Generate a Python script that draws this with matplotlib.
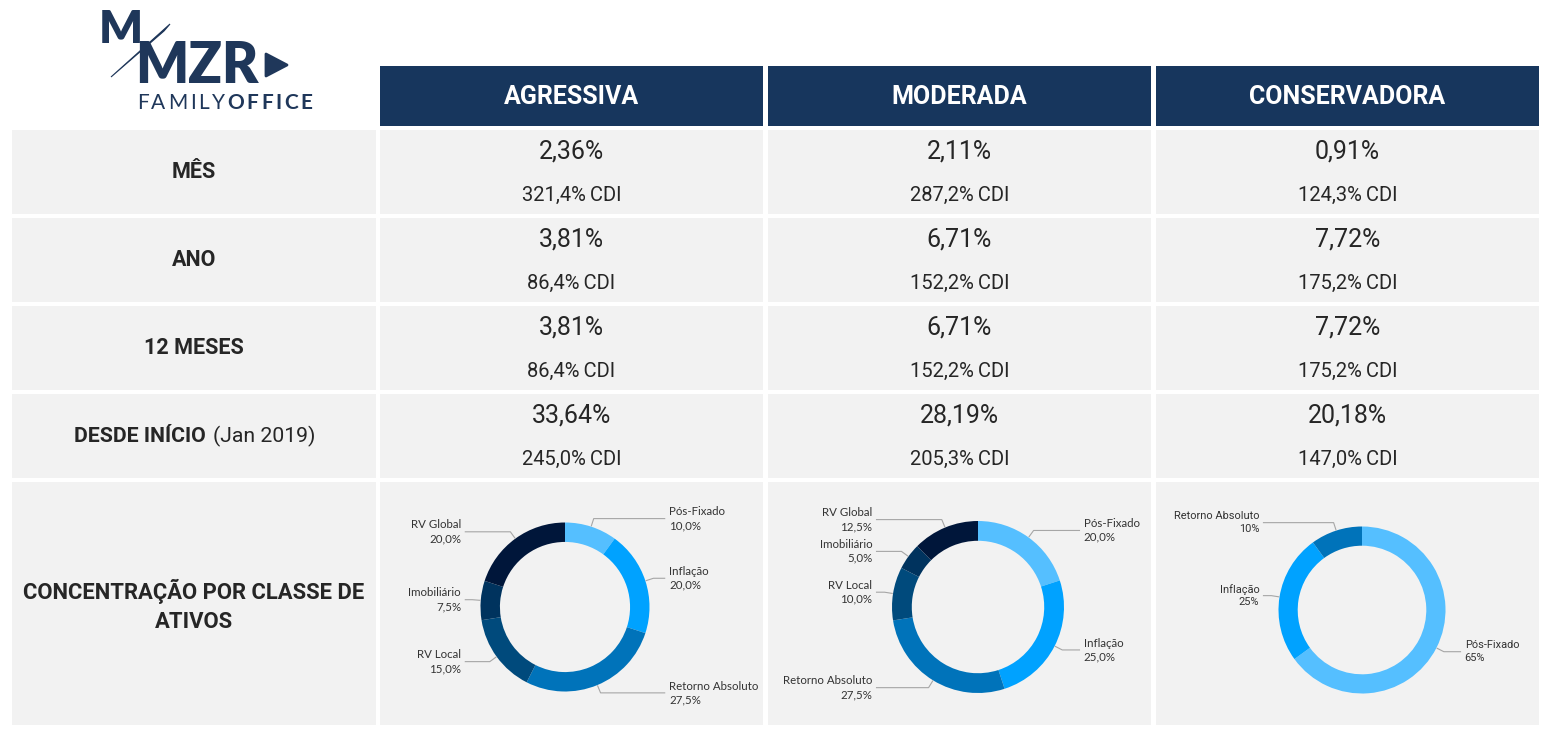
import matplotlib
matplotlib.use("Agg")
import matplotlib.pyplot as plt
from matplotlib.patches import Rectangle, Polygon
import numpy as np

# dados
perfis = ["AGRESSIVA", "MODERADA", "CONSERVADORA"]
linhas = ["MÊS", "ANO", "12 MESES", "DESDE INÍCIO"]
retorno_mes = [2.36, 2.11, 0.91]
cdi_mes = [321.4, 287.2, 124.3]
retorno_ano = [3.81, 6.71, 7.72]
cdi_ano = [86.4, 152.2, 175.2]
retorno_12m = [3.81, 6.71, 7.72]
cdi_12m = [86.4, 152.2, 175.2]
retorno_inicio = [33.64, 28.19, 20.18]
cdi_inicio = [245.0, 205.3, 147.0]

classes_agr = ["Pós-Fixado", "Inflação", "Retorno Absoluto", "RV Local", "Imobiliário", "RV Global"]
pesos_agr = [10.0, 20.0, 27.5, 15.0, 7.5, 20.0]
classes_mod = ["Pós-Fixado", "Inflação", "Retorno Absoluto", "RV Local", "Imobiliário", "RV Global"]
pesos_mod = [20.0, 25.0, 27.5, 10.0, 5.0, 12.5]
classes_con = ["Pós-Fixado", "Inflação", "Retorno Absoluto"]
pesos_con = [65, 25, 10]

cores = {"Pós-Fixado": "#55bfff", "Inflação": "#00a2ff", "Retorno Absoluto": "#0073ba",
         "RV Local": "#004a7c", "Imobiliário": "#00335e", "RV Global": "#00163a"}

NAVY = "#17365d"
LOGO = "#1f375a"
CINZA = "#f2f2f2"
TXT = "#262626"

W, H = 1552, 742
fig = plt.figure(figsize=(W / 100, H / 100), dpi=100)
bg = fig.add_axes([0, 0, 1, 1])
bg.set_xlim(0, W)
bg.set_ylim(H, 0)
bg.axis("off")
rend = fig.canvas.get_renderer()

lab_col = (12, 376)
cols = [(380, 763), (768, 1151), (1156, 1539)]
header = (66, 126)
rows = [(130, 214), (218, 302), (306, 390), (394, 478)]
donut_row = (482, 725)


def box(x0, x1, y0, y1, color):
    bg.add_patch(Rectangle((x0, y0), x1 - x0, y1 - y0, facecolor=color, edgecolor="none"))


def pct(v, d):
    return f"{v:.{d}f}".replace(".", ",") + "%"


# cabecalho
for (x0, x1), nome in zip(cols, perfis):
    box(x0, x1, header[0], header[1], NAVY)
    bg.text((x0 + x1) / 2, 97, nome, ha="center", va="center", color="white",
            fontsize=18, weight="bold", family="Roboto")

# linhas de retorno
dados = [(retorno_mes, cdi_mes), (retorno_ano, cdi_ano),
         (retorno_12m, cdi_12m), (retorno_inicio, cdi_inicio)]
for (y0, y1), nome, (ret, cdi) in zip(rows, linhas, dados):
    box(lab_col[0], lab_col[1], y0, y1, CINZA)
    yc = (y0 + y1) / 2
    if nome == "DESDE INÍCIO":
        bg.text(206, yc, nome, ha="right", va="center", color=TXT,
                fontsize=15.3, weight="bold", family="Roboto")
        bg.text(213, yc, "(Jan 2019)", ha="left", va="center", color=TXT,
                fontsize=15.3, family="Roboto")
    else:
        bg.text(sum(lab_col) / 2, yc, nome, ha="center", va="center", color=TXT,
                fontsize=15.5, weight="bold", family="Roboto")
    for (x0, x1), r, c in zip(cols, ret, cdi):
        box(x0, x1, y0, y1, CINZA)
        xc = (x0 + x1) / 2
        bg.text(xc, y0 + 21, pct(r, 2), ha="center", va="center", color=TXT,
                fontsize=18, family="Roboto")
        bg.text(xc, y0 + 65, pct(c, 1) + "\u2009CDI", ha="center", va="center", color=TXT,
                fontsize=14.5, family="Roboto")

# linha de concentracao
box(lab_col[0], lab_col[1], donut_row[0], donut_row[1], CINZA)
for x0, x1 in cols:
    box(x0, x1, donut_row[0], donut_row[1], CINZA)
bg.text(sum(lab_col) / 2, 606, "CONCENTRAÇÃO POR CLASSE DE\nATIVOS", ha="center",
        va="center", color=TXT, fontsize=15.8, weight="bold", family="Roboto",
        linespacing=1.4)

# logo
bg.text(121, 43, "M", ha="center", va="baseline", color=LOGO, fontsize=33,
        weight="heavy", family="Lato")
bg.text(135, 83, "MZR", ha="left", va="baseline", color=LOGO, fontsize=40,
        weight="heavy", family="Lato")
bg.add_patch(Polygon([(111, 77), (170, 24), (164, 31)], closed=True,
                     facecolor=LOGO, edgecolor=LOGO, lw=0.8))
bg.add_patch(Polygon([(266, 54), (266, 76), (287, 65)], closed=True,
                     facecolor=LOGO, edgecolor=LOGO, lw=2, joinstyle="round"))
x = 137
for i, ch in enumerate("FAMILYOFFICE"):
    t = bg.text(x, 109, ch, ha="left", va="baseline", color=LOGO, fontsize=15,
                weight="bold" if i >= 6 else "normal", family="Lato")
    x += t.get_window_extent(renderer=rend).width + 2.6


def donut(cx, cy, R, vals, nomes, casas, family, fs):
    L = 1.7
    ax = fig.add_axes([(cx - L * R) / W, 1 - (cy + L * R) / H, 2 * L * R / W, 2 * L * R / H])
    wedges, _ = ax.pie(vals, colors=[cores[n] for n in nomes], radius=1, startangle=90,
                       counterclock=False, wedgeprops=dict(width=0.23, edgecolor="none"))
    ax.set_xlim(-L, L)
    ax.set_ylim(-L, L)
    ax.axis("off")
    for w, v, n in zip(wedges, vals, nomes):
        a = np.deg2rad((w.theta1 + w.theta2) / 2)
        c, s = np.cos(a), np.sin(a)
        lado = 1 if c >= 0 else -1
        ex, ey = 1.1 * c, 1.1 * s
        ax.plot([1.01 * c, ex, lado * 1.18], [1.01 * s, ey, ey], color="#a6a6a6", lw=0.8)
        ax.text(lado * 1.23, ey, f"{n}\n{pct(v, casas)}", ha="left" if lado > 0 else "right",
                va="center", fontsize=fs, family=family, color="#333333", linespacing=1.3)


donut(565, 607, 84.5, pesos_agr, classes_agr, 1, "Lato", 8.3)
donut(978, 607, 86, pesos_mod, classes_mod, 1, "Lato", 8.3)
donut(1362, 610, 83.5, pesos_con, classes_con, 0, "Roboto", 7.9)

fig.savefig("out.png", dpi=100, facecolor="white")
